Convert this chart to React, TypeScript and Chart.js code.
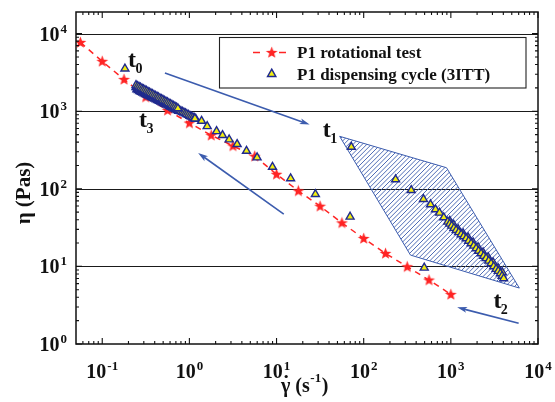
import React, { useEffect, useRef } from "react";
import { Chart, registerables } from "chart.js";
Chart.register(...registerables);

// ---------- data ----------
const rotX = [0.0562, 0.1, 0.178, 0.316, 0.562, 1, 1.78, 3.16, 5.62, 10, 17.8, 31.6, 56.2, 100, 178, 316, 562, 1000];
const rotY = [7700, 4390, 2570, 1524, 1028, 705, 490, 357, 263, 154, 94, 59.7, 36.4, 22.9, 14.7, 9.9, 6.67, 4.36];

// P1 dispensing cycle (3ITT), drawn in this order
const dispX = [
  0.182,
  // dense band near t3 : lower pass
  0.25, 0.26, 0.27, 0.281, 0.292, 0.304, 0.316, 0.329, 0.342, 0.356, 0.37, 0.385, 0.4, 0.417, 0.434, 0.452, 0.47, 0.489, 0.508, 0.529, 0.55, 0.572, 0.595, 0.62, 0.645, 0.672, 0.7, 0.728, 0.757,
  // centre pass
  0.244, 0.254, 0.264, 0.275, 0.286, 0.297, 0.309, 0.322, 0.335, 0.348, 0.362, 0.377, 0.392, 0.408, 0.425, 0.442, 0.459, 0.478, 0.497, 0.517, 0.538, 0.56, 0.582, 0.606, 0.631, 0.656, 0.682, 0.71, 0.738, 0.768, 0.799, 0.832, 0.865, 0.9, 0.936, 0.975, 1.014, 1.055, 1.097, 1.14, 1.187,
  // upper pass
  0.244, 0.254, 0.264, 0.275, 0.286, 0.297, 0.309, 0.322, 0.335, 0.348, 0.362, 0.377, 0.392, 0.408, 0.425, 0.442, 0.459, 0.478, 0.497, 0.517, 0.538, 0.56, 0.582, 0.606, 0.631, 0.656, 0.682, 0.71, 0.738,
  // separated points along the curve
  1.156, 1.38, 1.6, 2.05, 2.4, 2.86, 3.53, 4.52, 5.98, 8.98, 14.5, 27.9, 69.8, 495,
  // high shear interval (hatched area)
  72.1, 232, 351, 485, 584, 666, 741, 829,
  972, 1079, 1212, 1384, 1578, 1800, 2055, 2344, 2675, 3051, 3482, 3900,
  922, 970, 1024, 1085, 1150, 1230, 1313, 1400, 1497, 1600, 1708,
  1830, 1950, 2080, 2224, 2380, 2538, 2720, 2895, 3100, 3304, 3500, 3700, 3870, 4036,
];
const dispY = [
  3535,
  1900, 1857, 1815, 1775, 1735, 1696, 1658, 1621, 1585, 1550, 1515, 1482, 1450, 1417, 1385, 1355, 1325, 1295, 1265, 1237, 1210, 1184, 1158, 1131, 1105, 1080, 1055, 1031, 1008,
  2030, 1983, 1936, 1891, 1846, 1804, 1762, 1721, 1680, 1643, 1607, 1569, 1531, 1496, 1462, 1428, 1394, 1362, 1330, 1299, 1268, 1238, 1209, 1181, 1153, 1126, 1099, 1074, 1049, 1024, 1000, 978, 957, 934, 912, 891, 870, 850, 830, 810, 791,
  2160, 2105, 2055, 2005, 1955, 1910, 1865, 1820, 1775, 1735, 1695, 1653, 1612, 1573, 1535, 1498, 1462, 1427, 1393, 1359, 1325, 1293, 1262, 1231, 1200, 1170, 1140, 1112, 1085,
  803, 748, 639, 551, 490, 431, 375, 307, 253, 191, 136, 85.2, 43.5, 9.6,
  346, 132, 95.9, 73.5, 62.8, 54.2, 49, 42.7,
  38.6, 34.3, 30.2, 26.6, 23.6, 20.4, 17.6, 15.1, 13.1, 11.26, 9.5, 8.37,
  37.5, 35.4, 33.3, 31.2, 29.3, 27.5, 25.8, 24.3, 22.9, 21.3, 19.8,
  18.4, 17.05, 15.8, 14.7, 13.6, 12.7, 11.8, 10.93, 10.0, 9.23, 8.7, 8.13, 7.55, 7.01,
];

// hatched region (data coordinates)
const hatchX = [53, 892, 6110, 344];
const hatchY = [475, 187, 5.26, 14];

// arrows: from -> tip
const arrowFromX = [0.524, 12.1, 5998];
const arrowFromY = [3102, 47.1, 1.846];
const arrowToX = [24.0, 1.26, 1181];
const arrowToY = [672, 290, 2.967];

// time labels
const tLabels = ["0", "3", "1", "2"];
const tLabelX = [0.1975, 0.264, 33.8, 3076];
const tLabelY = [3673, 621, 461, 2.905];

const xMajor = [0.1, 1, 10, 100, 1000, 10000];
const xMajorExp = ["-1", "0", "1", "2", "3", "4"];
const yMajor = [1, 10, 100, 1000, 10000];
const yMajorExp = ["0", "1", "2", "3", "4"];
const yGrid = [10, 100, 1000, 10000];

const legendLabels = ["P1 rotational test", "P1 dispensing cycle (3ITT)"];

// ---------- styles ----------
const RED = "#ff2424";
const YELLOW = "#f2ee10";
const NAVY = "#1f2a8e";
const BLUE = "#3c5cae";
const SERIF = '"Liberation Serif", "Times New Roman", serif';

function makeStar(): HTMLCanvasElement {
  const c = document.createElement("canvas");
  c.width = 13;
  c.height = 13;
  const g = c.getContext("2d")!;
  const cx = 6.5, cy = 6.8, R = 6.2, r = 2.6;
  g.beginPath();
  for (let i = 0; i < 10; i++) {
    const ang = -Math.PI / 2 + (i * Math.PI) / 5;
    const rad = i % 2 === 0 ? R : r;
    const px = cx + rad * Math.cos(ang), py = cy + rad * Math.sin(ang);
    i === 0 ? g.moveTo(px, py) : g.lineTo(px, py);
  }
  g.closePath();
  g.fillStyle = RED;
  g.fill();
  return c;
}

function minorTicks(min: number, max: number): number[] {
  const out: number[] = [];
  for (let e = -3; e <= 5; e++) {
    for (let m = 2; m <= 9; m++) {
      const v = m * Math.pow(10, e);
      if (v > min * 1.001 && v < max * 0.999) out.push(v);
    }
  }
  return out;
}

function drawArrow(ctx: CanvasRenderingContext2D, x0: number, y0: number, x1: number, y1: number) {
  const ang = Math.atan2(y1 - y0, x1 - x0);
  const L = 10, W = 3;
  ctx.beginPath();
  ctx.moveTo(x0, y0);
  ctx.lineTo(x1 - Math.cos(ang) * L * 0.7, y1 - Math.sin(ang) * L * 0.7);
  ctx.stroke();
  ctx.beginPath();
  ctx.moveTo(x1, y1);
  ctx.lineTo(x1 - Math.cos(ang) * L - Math.sin(ang) * W, y1 - Math.sin(ang) * L + Math.cos(ang) * W);
  ctx.lineTo(x1 - Math.cos(ang) * L * 0.75, y1 - Math.sin(ang) * L * 0.75);
  ctx.lineTo(x1 - Math.cos(ang) * L + Math.sin(ang) * W, y1 - Math.sin(ang) * L - Math.cos(ang) * W);
  ctx.closePath();
  ctx.fill();
}

function drawPow(ctx: CanvasRenderingContext2D, exp: string, x: number, base: number, align: "center" | "right") {
  ctx.font = `bold 20px ${SERIF}`;
  const w10 = ctx.measureText("10").width;
  ctx.font = `bold 13px ${SERIF}`;
  const we = ctx.measureText(exp).width;
  const total = w10 + 1 + we;
  const start = align === "center" ? x - total / 2 : x - total;
  ctx.textAlign = "left";
  ctx.textBaseline = "alphabetic";
  ctx.font = `bold 20px ${SERIF}`;
  ctx.fillText("10", start, base);
  ctx.font = `bold 13px ${SERIF}`;
  ctx.fillText(exp, start + w10 + 1, base - 8);
}

const customPlugin = {
  id: "customDraw",
  beforeDatasetsDraw(chart: any) {
    const { ctx, chartArea: a, scales } = chart;
    const xs = scales.x, ys = scales.y;
    ctx.save();
    ctx.strokeStyle = "#1a1a1a";
    ctx.lineWidth = 1.2;
    for (const v of yGrid) {
      const py = Math.round(ys.getPixelForValue(v)) + 0.5;
      ctx.beginPath();
      ctx.moveTo(a.left, py);
      ctx.lineTo(a.right, py);
      ctx.stroke();
    }
    const poly = () => {
      ctx.beginPath();
      hatchX.forEach((vx, i) => {
        const px = xs.getPixelForValue(vx), py = ys.getPixelForValue(hatchY[i]);
        i ? ctx.lineTo(px, py) : ctx.moveTo(px, py);
      });
      ctx.closePath();
    };
    ctx.save();
    poly();
    ctx.clip();
    ctx.strokeStyle = BLUE;
    ctx.lineWidth = 0.9;
    ctx.beginPath();
    const h = a.bottom - a.top;
    for (let k = a.left - h; k < a.right + 10; k += 4.6) {
      ctx.moveTo(k, a.bottom);
      ctx.lineTo(k + h, a.top);
    }
    ctx.stroke();
    ctx.restore();
    poly();
    ctx.strokeStyle = BLUE;
    ctx.lineWidth = 1;
    ctx.stroke();
    ctx.strokeStyle = BLUE;
    ctx.fillStyle = BLUE;
    ctx.lineWidth = 1.6;
    for (let i = 0; i < arrowFromX.length; i++) {
      drawArrow(
        ctx,
        xs.getPixelForValue(arrowFromX[i]),
        ys.getPixelForValue(arrowFromY[i]),
        xs.getPixelForValue(arrowToX[i]),
        ys.getPixelForValue(arrowToY[i])
      );
    }
    ctx.restore();
  },
  afterDatasetsDraw(chart: any) {
    const { ctx, chartArea: a, scales } = chart;
    const xs = scales.x, ys = scales.y;
    ctx.save();
    ctx.strokeStyle = "#111";
    ctx.lineWidth = 1.5;
    ctx.strokeRect(a.left, a.top, a.right - a.left, a.bottom - a.top);
    ctx.lineWidth = 1.1;
    ctx.beginPath();
    const xmin = xs.min, xmax = xs.max, ymin = ys.min, ymax = ys.max;
    const xT = [...xMajor.map((v) => [v, 6]), ...minorTicks(xmin, xmax).map((v) => [v, 3])];
    for (const [v, len] of xT) {
      if (v < xmin || v > xmax) continue;
      const px = xs.getPixelForValue(v);
      ctx.moveTo(px, a.bottom);
      ctx.lineTo(px, a.bottom - len);
      ctx.moveTo(px, a.top);
      ctx.lineTo(px, a.top + len);
    }
    const yT = [...yMajor.map((v) => [v, 6]), ...minorTicks(ymin, ymax).map((v) => [v, 3])];
    for (const [v, len] of yT) {
      if (v < ymin || v > ymax) continue;
      const py = ys.getPixelForValue(v);
      ctx.moveTo(a.left, py);
      ctx.lineTo(a.left + len, py);
      ctx.moveTo(a.right, py);
      ctx.lineTo(a.right - len, py);
    }
    ctx.stroke();
    ctx.fillStyle = "#111";
    xMajor.forEach((v, i) => drawPow(ctx, xMajorExp[i], xs.getPixelForValue(v), 378, "center"));
    yMajor.forEach((v, i) => drawPow(ctx, yMajorExp[i], 67, ys.getPixelForValue(v) + 7, "right"));

    ctx.save();
    ctx.translate(25, 193);
    ctx.rotate(-Math.PI / 2);
    ctx.font = `bold 21px ${SERIF}`;
    ctx.textAlign = "center";
    ctx.textBaseline = "middle";
    ctx.fillText("\u03b7 (Pas)", 0, 0);
    ctx.restore();

    ctx.textAlign = "left";
    ctx.textBaseline = "alphabetic";
    const fBig = `bold 20px ${SERIF}`, fSmall = `bold 13px ${SERIF}`;
    ctx.font = fBig;
    const wG = ctx.measureText("\u03b3").width;
    const wS = ctx.measureText(" (s").width;
    const wP = ctx.measureText(")").width;
    ctx.font = fSmall;
    const wE = ctx.measureText("-1").width;
    let sx = 281;
    const bl = 392;
    ctx.font = fBig;
    ctx.fillText("\u03b3", sx, bl);
    ctx.beginPath();
    ctx.arc(sx + wG / 2 + 0.5, bl - 15.5, 1.6, 0, Math.PI * 2);
    ctx.fill();
    sx += wG;
    ctx.fillText(" (s", sx, bl);
    sx += wS;
    ctx.font = fSmall;
    ctx.fillText("-1", sx + 0.5, bl - 10);
    sx += wE + 1;
    ctx.font = fBig;
    ctx.fillText(")", sx, bl);

    tLabels.forEach((s, i) => {
      const px = xs.getPixelForValue(tLabelX[i]);
      const py = ys.getPixelForValue(tLabelY[i]);
      ctx.font = `bold 24px ${SERIF}`;
      ctx.fillText("t", px, py);
      const w = ctx.measureText("t").width;
      ctx.font = `bold 14px ${SERIF}`;
      ctx.fillText(s, px + w - 0.5, py + 6);
    });

    const L = 219.5, T = 37.5, R = 526, B = 88;
    ctx.fillStyle = "#fff";
    ctx.fillRect(L, T, R - L, B - T);
    ctx.strokeStyle = "#222";
    ctx.lineWidth = 1.1;
    ctx.strokeRect(L, T, R - L, B - T);
    const ds0 = chart.data.datasets[0];
    ctx.strokeStyle = RED;
    ctx.lineWidth = 1.5;
    ctx.beginPath();
    ctx.moveTo(253, 52.5);
    ctx.lineTo(260, 52.5);
    ctx.moveTo(279, 52.5);
    ctx.lineTo(286, 52.5);
    ctx.stroke();
    const star = ds0.pointStyle as HTMLCanvasElement;
    ctx.drawImage(star, 271.7 - star.width / 2, 52.5 - star.height / 2);
    ctx.fillStyle = YELLOW;
    ctx.strokeStyle = NAVY;
    ctx.lineWidth = 1.5;
    ctx.beginPath();
    ctx.moveTo(271.7, 69.2);
    ctx.lineTo(275.8, 76.5);
    ctx.lineTo(267.6, 76.5);
    ctx.closePath();
    ctx.fill();
    ctx.stroke();
    ctx.fillStyle = "#111";
    ctx.font = `bold 17px ${SERIF}`;
    ctx.textAlign = "left";
    ctx.textBaseline = "alphabetic";
    ctx.fillText(legendLabels[0], 297, 57.5);
    ctx.fillText(legendLabels[1], 297, 79.5);
    ctx.restore();
  },
};

export default function App() {
  const ref = useRef<HTMLCanvasElement>(null);
  useEffect(() => {
    const star = makeStar();
    const chart = new Chart(ref.current!, {
      type: "scatter",
      data: {
        datasets: [
          {
            label: legendLabels[0],
            data: rotX.map((x, i) => ({ x, y: rotY[i] })),
            showLine: true,
            borderColor: RED,
            borderWidth: 1.5,
            borderDash: [6, 5],
            pointStyle: star as any,
            pointRadius: 6,
            backgroundColor: RED,
            order: 2,
          },
          {
            label: legendLabels[1],
            data: dispX.map((x, i) => ({ x, y: dispY[i] })),
            showLine: false,
            pointStyle: "triangle",
            pointRadius: 4.6,
            backgroundColor: YELLOW,
            borderColor: NAVY,
            borderWidth: 1.4,
            order: 1,
          },
        ],
      },
      options: {
        responsive: false,
        animation: false,
        devicePixelRatio: 1,
        layout: { padding: { left: 76, right: 17, top: 12, bottom: 58 } },
        plugins: { legend: { display: false }, tooltip: { enabled: false }, title: { display: false } },
        scales: {
          x: { type: "logarithmic", min: 0.05, max: 10000, display: false },
          y: { type: "logarithmic", min: 1, max: 19000, display: false },
        },
      },
      plugins: [customPlugin],
    });
    return () => chart.destroy();
  }, []);
  return (
    <div style={{ position: "fixed", left: 0, top: 0, width: 555, height: 402, background: "#fff" }}>
      <canvas ref={ref} width={555} height={402} style={{ display: "block" }} />
    </div>
  );
}
